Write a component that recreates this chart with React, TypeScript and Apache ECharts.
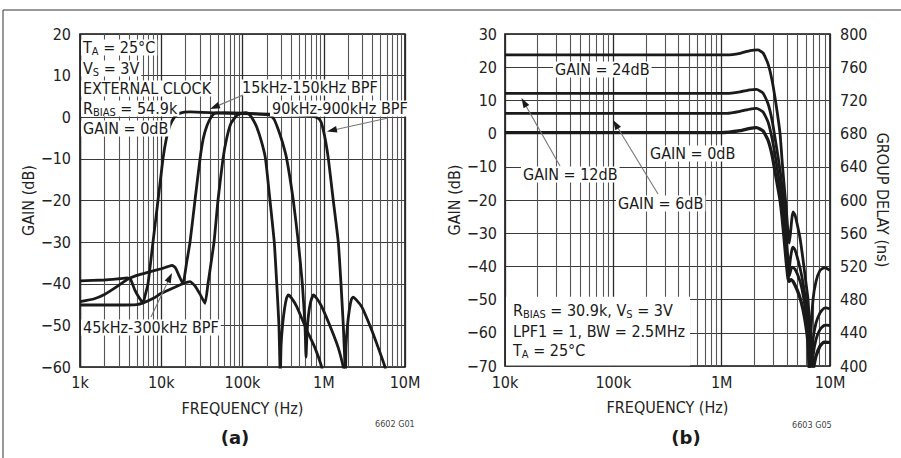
import React, { useEffect, useRef } from 'react';
import * as echarts from 'echarts';

const FONT = '"DejaVu Sans Condensed", "Liberation Sans Narrow", sans-serif';
const INK = '#1a1a1a';

// ---------- DATA: panel (a), frequency (Hz) vs gain (dB) ----------
const A_WIDE: [number, number][] = [
  [1000, -39.3], [2000, -39.1], [3000, -38.8], [3800, -38.6], [4200, -39.0], [4750, -41.6], [5400, -43.5],
  [5960, -44.6], [6300, -43.0], [6870, -40], [7910, -30], [9120, -20], [10500, -10], [11600, -5], [12800, -2],
  [14500, 0], [17000, 1.0], [22600, 1.3], [53000, 1.0], [164000, 0.8], [510000, 0.5], [718000, 0.3],
  [857000, -0.25], [930000, -1.2], [988000, -3.1], [1060000, -6], [1140000, -10], [1310000, -20],
  [1510000, -30], [1630000, -40], [1740000, -50], [1830000, -60], [1850000, -62], [1880000, -55],
  [1960000, -50], [2075000, -46], [2196000, -43.7], [2311000, -43.2], [2500000, -43.8], [2930000, -45.5],
  [3890000, -51.1], [4690000, -55.4], [5670000, -60], [5900000, -62],
];
const A_MID: [number, number][] = [
  [1000, -44.3], [1500, -43.6], [2000, -42.6], [3000, -40.4], [3800, -39.0], [5000, -38.0], [7000, -37.2],
  [10000, -36.4], [12000, -35.9], [13600, -35.6], [15000, -36.2], [16500, -38.0], [18500, -40], [20500, -35],
  [22600, -30], [26000, -20], [30000, -10], [33000, -5], [36600, -2], [41000, 0], [45900, 1.0], [60000, 1.1],
  [100000, 1.0], [150000, 0.8], [218000, 0.5], [245000, -0.5], [276000, -3], [310000, -6], [350000, -10],
  [422000, -20], [486000, -30], [545000, -40], [588000, -50], [605000, -57.6], [622000, -52], [649000, -47.5],
  [687000, -44.5], [744000, -42.7], [826000, -43.6], [944000, -45.5], [1250000, -51.1], [1510000, -55.4],
  [1740000, -60], [1800000, -62],
];
const A_NARROW: [number, number][] = [
  [1000, -45.1], [3000, -45.1], [5000, -45.0], [6000, -44.6], [8000, -43.5], [10000, -42.3], [14000, -41.0],
  [18500, -40.0], [22600, -39.5], [26000, -40.5], [30000, -42.5], [34600, -44.7], [37600, -40], [44600, -30],
  [49900, -20], [57500, -10], [64000, -5], [72000, -1.5], [85600, 0.5], [100000, 1.0], [110000, 1.1],
  [122000, 0.6], [135000, -0.6], [150000, -2.4], [172000, -6], [192000, -10], [218000, -20], [246000, -30],
  [264000, -40], [281000, -50], [289000, -60], [292000, -62], [298000, -55], [311000, -50], [329000, -46],
  [348000, -43.5], [366000, -42.7], [400000, -43.4], [465000, -45.5], [617000, -51.1], [780000, -55.4],
  [944000, -60], [980000, -62],
];

// ---------- DATA: panel (b) ----------
const B_24: [number, number][] = [
  [10000, 23.7], [1120000, 23.7], [1480000, 24.2], [1830000, 25.0], [2160000, 25.2], [2410000, 24.3],
  [2680000, 21], [2920000, 16], [3170000, 9], [3460000, 0], [3610000, -8], [3760000, -15], [3930000, -22],
  [4100000, -30], [4200000, -33], [4300000, -30.5], [4450000, -25.5], [4560000, -23.6], [4750000, -24.5],
  [4960000, -27], [5290000, -31.5], [5640000, -38], [6000000, -45], [6270000, -50], [6450000, -58],
  [6540000, -72], [6680000, -60], [6970000, -50], [7430000, -44.5], [8090000, -41.2], [8800000, -40.4],
  [9190000, -40.5], [10000000, -41.2],
];
const B_12: [number, number][] = [
  [10000, 12.1], [1120000, 12.1], [1480000, 12.6], [1830000, 13.2], [2100000, 13.3], [2410000, 12.2],
  [2680000, 9], [2920000, 4], [3170000, -3], [3460000, -11], [3610000, -16], [3760000, -22], [3930000, -30],
  [4100000, -38], [4200000, -41], [4300000, -38], [4450000, -35], [4560000, -34.2], [4750000, -35],
  [4960000, -37], [5290000, -40.5], [5640000, -45], [6000000, -51], [6270000, -57], [6500000, -72],
  [6680000, -70], [6970000, -62], [7430000, -57], [8090000, -54], [8800000, -52.6], [9190000, -52.5],
  [10000000, -52.8],
];
const B_6: [number, number][] = [
  [10000, 6.1], [1120000, 6.1], [1480000, 6.7], [1830000, 7.4], [2100000, 7.6], [2410000, 6.5],
  [2680000, 3.5], [2920000, -1.5], [3170000, -8], [3460000, -16], [3610000, -21], [3760000, -27],
  [3930000, -35], [4100000, -41.5], [4200000, -43], [4370000, -40.8], [4450000, -40.2], [4750000, -40.8],
  [5290000, -44.5], [5640000, -48.5], [6000000, -54], [6270000, -59], [6500000, -72], [6800000, -72],
  [6970000, -67], [7430000, -62], [8090000, -59], [8800000, -57.8], [9190000, -57.7], [10000000, -57.8],
];
const B_0: [number, number][] = [
  [10000, 0.3], [1000000, 0.3], [1480000, 0.9], [1830000, 1.6], [2100000, 1.8], [2410000, 0.8],
  [2680000, -2], [2920000, -6.5], [3170000, -13], [3460000, -20], [3610000, -25], [3760000, -31],
  [3930000, -38], [4100000, -43.5], [4200000, -44.5], [4370000, -44], [4560000, -44.5], [4960000, -47],
  [5290000, -49.5], [5640000, -53], [6000000, -58], [6270000, -63], [6500000, -72], [6900000, -72],
  [7100000, -70], [7430000, -67], [8090000, -64], [8800000, -62.8], [10000000, -62.9],
];

// ---------- AXES / TICKS ----------
const FREQ_TICK_LABELS = ['1k', '10k', '100k', '1M', '10M']; // 10^3 .. 10^7
const DECADES_A = [1e3, 1e4, 1e5, 1e6];
const DECADES_B = [1e4, 1e5, 1e6];
const MINOR_STEPS = [2, 3, 4, 5, 6, 7, 8, 9];
const MINOR_A = DECADES_A.flatMap((d) => MINOR_STEPS.map((m) => d * m));
const MINOR_B = DECADES_B.flatMap((d) => MINOR_STEPS.map((m) => d * m));

// ---------- ANNOTATIONS (text, layout) ----------
type Part = [string, boolean?];
const NOTES_A: { x: number; y: number; parts: Part[] }[] = [
  { x: 83, y: 53, parts: [['T'], ['A', true], [' = 25°C']] },
  { x: 83, y: 74, parts: [['V'], ['S', true], [' = 3V']] },
  { x: 83, y: 94, parts: [['EXTERNAL CLOCK']] },
  { x: 83, y: 114, parts: [['R'], ['BIAS', true], [' = 54.9k']] },
  { x: 83, y: 134, parts: [['GAIN = 0dB']] },
  { x: 242, y: 93, parts: [['15kHz-150kHz BPF']] },
  { x: 272, y: 114, parts: [['90kHz-900kHz BPF']] },
  { x: 83, y: 333, parts: [['45kHz-300kHz BPF']] },
];
const NOTES_B: { x: number; y: number; parts: Part[] }[] = [
  { x: 555, y: 75, parts: [['GAIN = 24dB']] },
  { x: 523, y: 180, parts: [['GAIN = 12dB']] },
  { x: 618, y: 209, parts: [['GAIN = 6dB']] },
  { x: 650, y: 159, parts: [['GAIN = 0dB']] },
];
const BLOCK_B: { x: number; y: number; parts: Part[] }[] = [
  { x: 513, y: 316, parts: [['R'], ['BIAS', true], [' = 30.9k, V'], ['S', true], [' = 3V']] },
  { x: 513, y: 337, parts: [['LPF1 = 1, BW = 2.5MHz']] },
  { x: 513, y: 356, parts: [['T'], ['A', true], [' = 25°C']] },
];
const ARROWS: [number, number, number, number][] = [
  [243, 95, 210, 109],
  [388, 118, 327, 131.5],
  [151, 317, 172, 273],
  [560, 166, 521.5, 98],
  [658, 194, 613, 120],
];

const FS = 16;
const SUB_FS = 11;

function buildText(ctx: CanvasRenderingContext2D, x: number, base: number, parts: Part[]) {
  const els: any[] = [];
  let cx = x;
  for (const [t, sub] of parts) {
    const fs = sub ? SUB_FS : FS;
    ctx.font = `${fs}px ${FONT}`;
    const w = ctx.measureText(t).width;
    els.push({
      type: 'text',
      x: cx,
      y: sub ? base + 2.5 - fs * 0.35 : base - FS * 0.35,
      z: 101,
      silent: true,
      style: { text: t, fontSize: fs, fontFamily: FONT, fill: INK, align: 'left', verticalAlign: 'middle', lineHeight: fs },
    });
    cx += w;
  }
  return { els, width: cx - x };
}

function arrow(x1: number, y1: number, x2: number, y2: number) {
  const dx = x2 - x1, dy = y2 - y1;
  const L = Math.hypot(dx, dy);
  const ux = dx / L, uy = dy / L;
  const hl = 10, hw = 3.3;
  const bx = x2 - ux * hl, by = y2 - uy * hl;
  return [
    { type: 'line', z: 102, silent: true, shape: { x1, y1, x2: bx + ux * 2, y2: by + uy * 2 }, style: { stroke: '#777', lineWidth: 1.1 } },
    {
      type: 'polygon', z: 102, silent: true,
      shape: { points: [[x2, y2], [bx - uy * hw, by + ux * hw], [bx + uy * hw, by - ux * hw]] },
      style: { fill: INK },
    },
  ];
}

const freqLabel = (v: number) => FREQ_TICK_LABELS[Math.round(Math.log10(v)) - 3] ?? '';
const gainLabel = (v: number) => (v < 0 ? '\u2212' + Math.abs(v) : String(v));

export default function App() {
  const ref = useRef<HTMLDivElement>(null);
  useEffect(() => {
    if (!ref.current) return;
    const chart = echarts.init(ref.current, undefined, { renderer: 'svg' });
    const ctx = document.createElement('canvas').getContext('2d') as CanvasRenderingContext2D;

    const labelStyle = { fontFamily: FONT, fontSize: FS, color: '#222' };
    const graphics: any[] = [];
    // outer frame (top and left)
    graphics.push({ type: 'line', z: 102, silent: true, shape: { x1: 3, y1: 10, x2: 901, y2: 10 }, style: { stroke: '#333', lineWidth: 1 } });
    graphics.push({ type: 'line', z: 102, silent: true, shape: { x1: 3, y1: 10, x2: 3, y2: 458 }, style: { stroke: '#333', lineWidth: 1 } });

    for (const n of [...NOTES_A, ...NOTES_B]) {
      const r = buildText(ctx, n.x, n.y, n.parts);
      graphics.push({ type: 'rect', z: 100, silent: true, shape: { x: n.x - 2, y: n.y - FS * 0.85, width: r.width + 4, height: FS * 0.85 + 2.5 }, style: { fill: '#fff' } });
      graphics.push(...r.els);
    }
    let blockW = 0;
    const blockEls: any[] = [];
    for (const n of BLOCK_B) {
      const r = buildText(ctx, n.x, n.y, n.parts);
      blockW = Math.max(blockW, r.width);
      blockEls.push(...r.els);
    }
    const bTop = BLOCK_B[0].y - FS * 1.2;
    graphics.push({ type: 'rect', z: 100, silent: true, shape: { x: 506, y: bTop, width: BLOCK_B[0].x - 506 + blockW + 5, height: 365.5 - bTop }, style: { fill: '#fff' } });
    graphics.push(...blockEls);

    for (const a of ARROWS) graphics.push(...arrow(a[0], a[1], a[2], a[3]));

    graphics.push({ type: 'text', x: 375, y: 424, z: 101, style: { text: '6602 G01', fontSize: 9, fontFamily: FONT, fill: '#444', verticalAlign: 'middle' } });
    graphics.push({ type: 'text', x: 792, y: 425, z: 101, style: { text: '6603 G05', fontSize: 9, fontFamily: FONT, fill: '#444', verticalAlign: 'middle' } });
    graphics.push({ type: 'text', x: 235, y: 437, z: 101, style: { text: '(a)', fontSize: 18, fontWeight: 'bold', fontFamily: '"DejaVu Sans", sans-serif', fill: INK, align: 'center', verticalAlign: 'middle' } });
    graphics.push({ type: 'text', x: 686, y: 437, z: 101, style: { text: '(b)', fontSize: 18, fontWeight: 'bold', fontFamily: '"DejaVu Sans", sans-serif', fill: INK, align: 'center', verticalAlign: 'middle' } });

    const curve = (data: [number, number][], xi: number, yi: number, w = 2.8) => ({
      type: 'line', xAxisIndex: xi, yAxisIndex: yi, data, symbol: 'none', smooth: 0.15, silent: true, z: 5,
      lineStyle: { color: INK, width: w },
    });
    const minorGrid = (vals: number[], xi: number, yi: number) => ({
      type: 'line', xAxisIndex: xi, yAxisIndex: yi, data: [], silent: true, z: 1,
      markLine: {
        silent: true, symbol: ['none', 'none'], label: { show: false }, animation: false,
        lineStyle: { color: '#555', width: 1.1, type: 'solid' },
        emphasis: { disabled: true },
        data: vals.map((v) => ({ xAxis: v })),
      },
    });

    const xBase = {
      type: 'log', logBase: 10,
      axisLine: { show: false }, axisTick: { show: false },
      axisLabel: { ...labelStyle, formatter: freqLabel, showMinLabel: true, showMaxLabel: true },
      splitLine: { show: true, lineStyle: { color: '#2a2a2a', width: 1.3 } },
      name: 'FREQUENCY (Hz)', nameLocation: 'middle', nameGap: 33, nameTextStyle: { ...labelStyle },
    };
    const yBase = {
      type: 'value', interval: 10,
      axisLine: { show: false }, axisTick: { show: false },
      splitLine: { show: true, lineStyle: { color: '#3a3a3a', width: 1.2 } },
      name: 'GAIN (dB)', nameLocation: 'middle', nameGap: 40, nameTextStyle: { ...labelStyle },
    };

    chart.setOption({
      animation: false,
      backgroundColor: '#fff',
      grid: [
        { left: 80, top: 34, width: 325, height: 333, show: true, borderColor: '#111', borderWidth: 1.6, backgroundColor: 'transparent' },
        { left: 505, top: 34, width: 325, height: 332, show: true, borderColor: '#111', borderWidth: 1.6, backgroundColor: 'transparent' },
      ],
      xAxis: [
        { ...xBase, gridIndex: 0, min: 1e3, max: 1e7, splitNumber: 4, axisLabel: { ...xBase.axisLabel, margin: 7 } },
        { ...xBase, gridIndex: 1, min: 1e4, max: 1e7, splitNumber: 3, axisLabel: { ...xBase.axisLabel, margin: 8 } },
      ],
      yAxis: [
        { ...yBase, gridIndex: 0, min: -60, max: 20, axisLabel: { ...labelStyle, margin: 9, formatter: gainLabel } },
        { ...yBase, gridIndex: 1, min: -70, max: 30, axisLabel: { ...labelStyle, margin: 8, formatter: gainLabel } },
        {
          type: 'value', gridIndex: 1, position: 'right', min: 400, max: 800, interval: 40,
          axisLine: { show: false }, axisTick: { show: false }, splitLine: { show: false },
          axisLabel: { ...labelStyle, margin: 10 },
          name: 'GROUP DELAY (ns)', nameLocation: 'middle', nameRotate: -90, nameGap: 44, nameTextStyle: { ...labelStyle },
        },
      ],
      series: [
        minorGrid(MINOR_A, 0, 0),
        minorGrid(MINOR_B, 1, 1),
        curve(A_WIDE, 0, 0),
        curve(A_MID, 0, 0),
        curve(A_NARROW, 0, 0),
        curve(B_24, 1, 1),
        curve(B_12, 1, 1),
        curve(B_6, 1, 1),
        curve(B_0, 1, 1, 3.3),
      ],
      graphic: { elements: graphics },
    });
    return () => chart.dispose();
  }, []);
  return <div ref={ref} style={{ position: 'fixed', left: 0, top: 0, width: 901, height: 458, background: '#fff' }} />;
}
